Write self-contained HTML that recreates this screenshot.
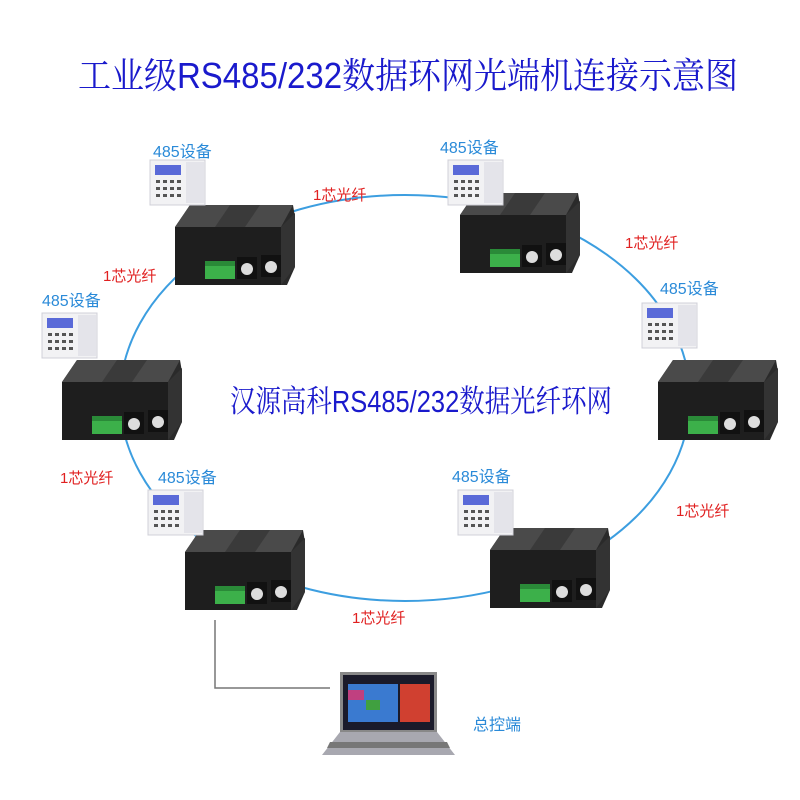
<!DOCTYPE html>
<html><head><meta charset="utf-8"><style>
html,body{margin:0;padding:0;background:#fff;}
svg{display:block}
</style></head><body>
<svg width="800" height="800" viewBox="0 0 800 800" xmlns="http://www.w3.org/2000/svg">
<defs>
<g id="dev">
  <polygon points="0,22 15,0 118,0 120,12 120,62 112,80 0,80" fill="#2a2a2a"/>
  <polygon points="0,22 15,0 118,0 106,22" fill="#4a4a4a"/>
  <polygon points="40,22 55,0 85,0 70,22" fill="#3a3a3a"/>
  <rect x="0" y="22" width="106" height="58" fill="#1e1e1e"/>
  <polygon points="106,22 120,8 120,62 106,80" fill="#333"/>
  <rect x="30" y="56" width="30" height="18" fill="#3cb04a"/>
  <rect x="30" y="56" width="30" height="5" fill="#2a8a38"/>
  <rect x="62" y="52" width="20" height="22" fill="#111"/>
  <circle cx="72" cy="64" r="6" fill="#ddd"/>
  <rect x="86" y="50" width="20" height="22" fill="#111"/>
  <circle cx="96" cy="62" r="6" fill="#ddd"/>
</g>
<g id="term">
  <rect x="0" y="0" width="55" height="45" fill="#f2f2f4" stroke="#d0d0d8"/>
  <rect x="36" y="2" width="18" height="41" fill="#e4e4ea"/>
  <rect x="5" y="5" width="26" height="10" fill="#5a6ad8"/>
  <g fill="#555">
    <rect x="6" y="20" width="4" height="3"/><rect x="13" y="20" width="4" height="3"/><rect x="20" y="20" width="4" height="3"/><rect x="27" y="20" width="4" height="3"/>
    <rect x="6" y="27" width="4" height="3"/><rect x="13" y="27" width="4" height="3"/><rect x="20" y="27" width="4" height="3"/><rect x="27" y="27" width="4" height="3"/>
    <rect x="6" y="34" width="4" height="3"/><rect x="13" y="34" width="4" height="3"/><rect x="20" y="34" width="4" height="3"/><rect x="27" y="34" width="4" height="3"/>
  </g>
</g>
</defs>
<text x="408" y="88" text-anchor="middle" font-family="'Liberation Sans','Noto Serif CJK SC',sans-serif" font-size="36" fill="#1a1acc" textLength="660" lengthAdjust="spacingAndGlyphs">工业级RS485/232数据环网光端机连接示意图</text>

<ellipse cx="405" cy="398" rx="285" ry="203" fill="none" stroke="#3c9ee0" stroke-width="2"/>

<polyline points="215,620 215,688 330,688" fill="none" stroke="#777" stroke-width="1.5"/>

<use href="#dev" x="175" y="205"/>
<use href="#dev" x="460" y="193"/>
<use href="#dev" x="62" y="360"/>
<use href="#dev" x="658" y="360"/>
<use href="#dev" x="185" y="530"/>
<use href="#dev" x="490" y="528"/>

<use href="#term" x="150" y="160"/>
<use href="#term" x="448" y="160"/>
<use href="#term" x="642" y="303"/>
<use href="#term" x="42" y="313"/>
<use href="#term" x="148" y="490"/>
<use href="#term" x="458" y="490"/>

<g font-family="'Liberation Sans','Noto Sans CJK SC',sans-serif" font-size="16" fill="#2a8ad8">
<text x="153" y="157">485设备</text>
<text x="440" y="153">485设备</text>
<text x="660" y="294">485设备</text>
<text x="42" y="306">485设备</text>
<text x="158" y="483">485设备</text>
<text x="452" y="482">485设备</text>
<text x="473" y="730">总控端</text>
</g>
<g font-family="'Liberation Sans','Noto Sans CJK SC',sans-serif" font-size="15" fill="#e02020">
<text x="313" y="200">1芯光纤</text>
<text x="625" y="248">1芯光纤</text>
<text x="103" y="281">1芯光纤</text>
<text x="60" y="483">1芯光纤</text>
<text x="676" y="516">1芯光纤</text>
<text x="352" y="623">1芯光纤</text>
</g>

<text x="421" y="412" text-anchor="middle" font-family="'Liberation Sans','Noto Serif CJK SC',sans-serif" font-size="31" fill="#1a1acc" textLength="382" lengthAdjust="spacingAndGlyphs">汉源高科RS485/232数据光纤环网</text>

<!-- laptop -->
<polygon points="340,672 437,672 437,732 340,732" fill="#888"/>
<rect x="343" y="675" width="91" height="55" fill="#1a1a2a"/>
<rect x="348" y="684" width="50" height="38" fill="#3a7ad0"/>
<rect x="348" y="690" width="16" height="10" fill="#c04080"/>
<rect x="366" y="700" width="14" height="10" fill="#40a040"/>
<rect x="400" y="684" width="30" height="38" fill="#d04030"/>
<polygon points="340,732 437,732 455,755 322,755" fill="#a8a8b0"/>
<polygon points="330,742 447,742 450,748 327,748" fill="#777"/>
</svg>
</body></html>
